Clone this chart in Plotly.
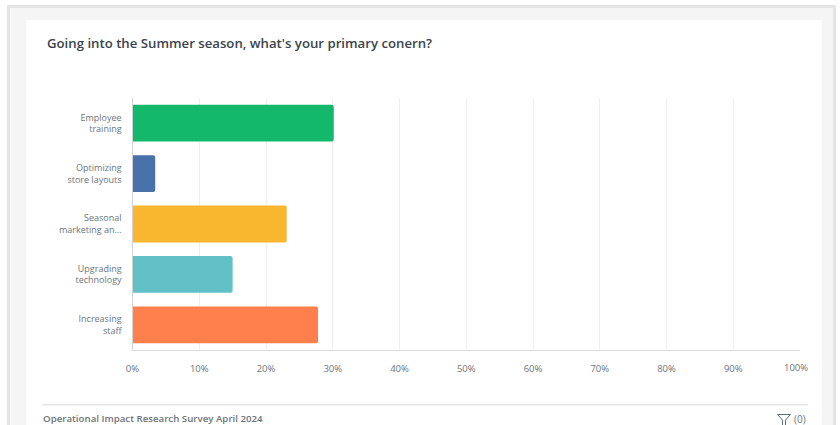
import plotly.graph_objects as go

# Survey results
categories = ["Employee<br>training", "Optimizing<br>store layouts", "Seasonal<br>marketing an...",
              "Upgrading<br>technology", "Increasing<br>staff"]
shares = [30.15, 3.4, 23.1, 15.0, 27.8]
bar_colors = ["#14b86a", "#4a72aa", "#f9b62f", "#62c1c6", "#ff7f4d"]
tick_values = [0, 10, 20, 30, 40, 50, 60, 70, 80, 90, 100]
tick_labels = ["0%", "10%", "20%", "30%", "40%", "50%", "60%", "70%", "80%", "90%", ""]
last_tick_label = "100%"

title_text = "Going into the Summer season, what's your primary conern?"
survey_name = "Operational Impact Research Survey April 2024"
filter_count = "(0)"

W, H = 840, 425
FONT = "Open Sans"
TEXT = "#6e7479"


def px(x):
    return x / W


def py(y):
    return 1 - y / H


def panel(x0, y0, x1, y1, color):
    return dict(type="rect", xref="paper", yref="paper", layer="below",
                x0=px(x0), x1=px(x1), y0=py(y0), y1=py(y1),
                fillcolor=color, line_width=0)


fig = go.Figure(go.Bar(
    y=categories, x=shares, orientation="h",
    marker=dict(color=bar_colors, line_width=0, cornerradius=2),
    width=0.73, hoverinfo="skip",
))

# Page frame, card and footer rule
shapes = [
    panel(7, 5, 836, 430, "#e4e4e4"),
    panel(10, 8, 833, 430, "#f5f5f5"),
    panel(26, 20, 822, 430, "#ffffff"),
    panel(42, 404, 808, 405.5, "#e6e6e6"),
]

# Filter funnel icon in the footer
funnel = [(777.5, 414.5), (790.5, 414.5), (785.5, 420), (785.5, 426), (782.5, 426), (782.5, 420)]
path = "M " + " L ".join(f"{px(a):.5f},{py(b):.5f}" for a, b in funnel) + " Z"
shapes.append(dict(type="path", xref="paper", yref="paper", path=path,
                   line=dict(color="#5f6b73", width=1), fillcolor="rgba(0,0,0,0)"))

fig.update_layout(
    width=W, height=H,
    margin=dict(l=0, r=0, t=0, b=0, autoexpand=False),
    paper_bgcolor="#ffffff", plot_bgcolor="rgba(0,0,0,0)",
    font=dict(family=FONT, color=TEXT),
    showlegend=False,
    shapes=shapes,
    title=dict(text=title_text, xref="paper", yref="paper", x=px(47), y=py(43),
               xanchor="left", yanchor="middle", automargin=False,
               font=dict(family=FONT, size=13.2, color="#3a444c", weight=600)),
    xaxis=dict(domain=[px(132.5), px(800)], range=[0, 100], tickmode="array",
               tickvals=tick_values, ticktext=tick_labels,
               tickfont=dict(size=9.5, color=TEXT), ticks="outside", ticklen=9,
               tickcolor="rgba(0,0,0,0)", showgrid=True, gridcolor="#eeeeee", gridwidth=1,
               zeroline=False, showline=True, linecolor="#dcdcdc", linewidth=1.2,
               fixedrange=True),
    yaxis=dict(domain=[py(350), py(98)], autorange="reversed", type="category",
               tickfont=dict(size=9, color=TEXT), ticks="outside", ticklen=8,
               tickcolor="rgba(0,0,0,0)", showgrid=False, zeroline=False,
               showline=True, linecolor="#d2d2d2", linewidth=1.2, fixedrange=True),
    annotations=[
        dict(text=last_tick_label, xref="paper", yref="paper", x=px(795.7), y=py(367.5),
             xanchor="center", yanchor="middle", showarrow=False,
             font=dict(size=9.5, color=TEXT)),
        dict(text=survey_name, xref="paper", yref="paper", x=px(40.5), y=py(418),
             xanchor="left", yanchor="middle", showarrow=False,
             font=dict(size=9.7, color=TEXT, weight=600)),
        dict(text=filter_count, xref="paper", yref="paper", x=px(791.5), y=py(419),
             xanchor="left", yanchor="middle", showarrow=False,
             font=dict(size=10, color=TEXT)),
    ],
)

fig.write_html("out.html", config=dict(displayModeBar=False))
